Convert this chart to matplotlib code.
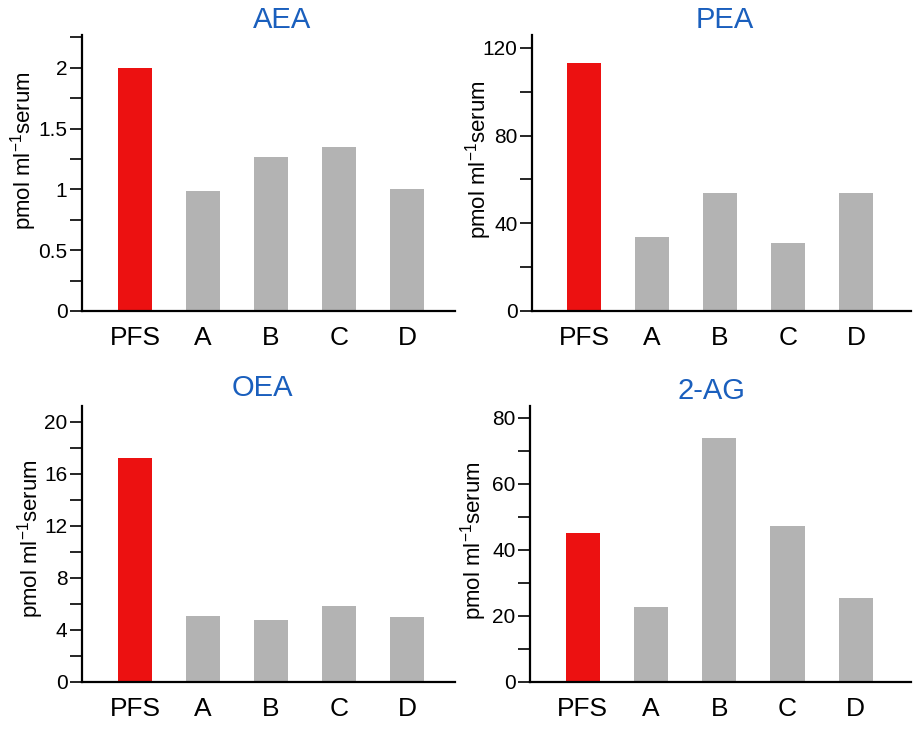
import matplotlib
matplotlib.use('Agg')
import matplotlib.pyplot as plt
from matplotlib.ticker import MultipleLocator

plt.rcParams['font.family'] = ['Liberation Sans', 'DejaVu Sans']
plt.rcParams['mathtext.fontset'] = 'custom'
plt.rcParams['mathtext.rm'] = 'Liberation Sans'
plt.rcParams['mathtext.it'] = 'Liberation Sans'

groups = ['PFS', 'A', 'B', 'C', 'D']

aea = [2.0, 0.99, 1.27, 1.345, 1.0]
pea = [112.9, 33.7, 53.8, 31.0, 53.8]
oea = [17.18, 5.08, 4.77, 5.82, 5.0]
ag2 = [45.0, 22.7, 73.9, 47.0, 25.4]

red = '#ec1111'
grey = '#b3b3b3'
title_blue = '#1a5fbd'
ylab = r'pmol ml$^{-1}$serum'

# one dict per panel: data, axes rect, limits, ticks, label/title placement
panels = [
    dict(title='AEA', vals=aea, rect=[0.0895, 0.574, 0.407, 0.378],
         ylim=2.27, major=0.5, minor=0.25, xlim=(-0.78, 4.7),
         fmt=lambda v: '%g' % v, lab=(-0.158, 0.58), tit=(0.536, 1.054)),
    dict(title='PEA', vals=pea, rect=[0.5808, 0.574, 0.4137, 0.378],
         ylim=125.8, major=40, minor=20, xlim=(-0.765, 4.81),
         fmt=lambda v: '%d' % v, lab=(-0.142, 0.55), tit=(0.509, 1.054)),
    dict(title='OEA', vals=oea, rect=[0.0895, 0.0662, 0.407, 0.3777],
         ylim=21.2, major=4, minor=2, xlim=(-0.78, 4.7),
         fmt=lambda v: '%d' % v, lab=(-0.139, 0.52), tit=(0.485, 1.065)),
    dict(title='2-AG', vals=ag2, rect=[0.5786, 0.0662, 0.416, 0.3777],
         ylim=83.5, major=20, minor=10, xlim=(-0.77, 4.81),
         fmt=lambda v: '%d' % v, lab=(-0.147, 0.51), tit=(0.475, 1.054)),
]

fig = plt.figure(figsize=(9.16, 7.3), dpi=100)

for p in panels:
    ax = fig.add_axes(p['rect'])
    colors = [red] + [grey] * (len(groups) - 1)
    ax.bar(range(len(groups)), p['vals'], width=0.5, color=colors, zorder=2)

    ax.set_xlim(*p['xlim'])
    ax.set_ylim(0, p['ylim'])
    ax.set_xticks(range(len(groups)))
    ax.set_xticklabels(groups, fontsize=19)
    ax.tick_params(axis='x', length=0, pad=11)

    ax.yaxis.set_major_locator(MultipleLocator(p['major']))
    ax.yaxis.set_minor_locator(MultipleLocator(p['minor']))
    ax.yaxis.set_major_formatter(plt.FuncFormatter(lambda v, pos, f=p['fmt']: f(v)))
    ax.tick_params(axis='y', which='both', length=8.5, width=1.2, labelsize=15, pad=2)

    for s in ['top', 'right']:
        ax.spines[s].set_visible(False)
    for s in ['left', 'bottom']:
        ax.spines[s].set_linewidth(1.6)

    ax.text(p['lab'][0], p['lab'][1], ylab, rotation=90, ha='center', va='center',
            fontsize=16, transform=ax.transAxes)
    ax.text(p['tit'][0], p['tit'][1], p['title'], ha='center', va='center',
            fontsize=21, color=title_blue, transform=ax.transAxes)

fig.savefig('out.png', dpi=100)
